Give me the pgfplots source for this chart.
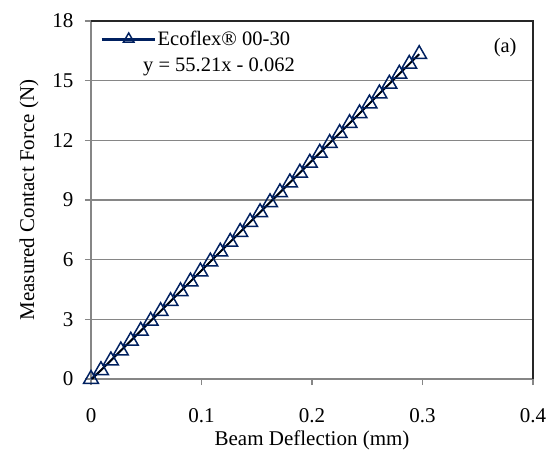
\documentclass[border=0pt]{standalone}
\usepackage{fontspec}
\setmainfont{Liberation Serif}
\usepackage{pgfplots}
\pgfplotsset{compat=1.18}

\definecolor{navy}{HTML}{002060}
\definecolor{axgray}{HTML}{868686}
\definecolor{frame}{HTML}{262626}

\newcommand{\tickfont}{\fontsize{21bp}{25bp}\selectfont}
\newcommand{\labfont}{\fontsize{21bp}{25bp}\selectfont}
\newcommand{\legfont}{\fontsize{20.5bp}{24bp}\selectfont}

\begin{document}
\begin{tikzpicture}
\begin{axis}[
  name=ax,
  scale only axis,
  width=442bp, height=358bp,
  xmin=0, xmax=0.4, ymin=0, ymax=18,
  xtick={0,0.1,0.2,0.3,0.4},
  ytick={0,3,6,9,12,15,18},
  /pgf/number format/assume math mode=true,
  axis line style={draw=none},
  tick align=outside,
  xtick pos=bottom, ytick pos=left,
  major tick length=6bp,
  tick style={axgray, line width=1.5bp},
  ymajorgrids,
  grid style={axgray, line width=1.5bp},
  xlabel={Beam Deflection (mm)},
  ylabel={Measured Contact Force (N)},
  every axis x label/.style={at={(axis description cs:0.5,0)}, anchor=base, yshift=-66bp, font=\labfont},
  every axis y label/.style={at={(axis description cs:-0.140,0.5)}, anchor=center, rotate=90, font=\labfont},
  x tick label style={anchor=center, yshift=-31bp, font=\tickfont},
  y tick label style={anchor=east, xshift=-8bp, font=\tickfont},
  legend style={draw=none, fill=none, inner xsep=0pt, inner ysep=0pt,
    at={(rel axis cs:0.0204,0.9497)}, anchor=west,
    font=\legfont,
    nodes={inner sep=1.5bp}},
  legend cell align=left,
  legend image code/.code={
    \draw[navy, line width=3bp] (0bp,0bp) -- (53bp,0bp);
    \draw[navy, line width=1.5bp, fill=white] plot[mark=triangle, mark size=6bp] coordinates {(27bp,0bp)};
  },
  clip=false,
]
\draw[axgray, line width=2bp] (rel axis cs:0,1) -- (rel axis cs:0,0) -- (rel axis cs:1,0);
\draw[frame, line width=2bp] (rel axis cs:0,1) -- (rel axis cs:1,1) -- (rel axis cs:1,0);
\addplot[navy, line width=2bp, mark=triangle, mark size=8.5bp,
  mark options={fill=white, line width=1.5bp, solid}] coordinates {
 (0,0) (0.009,0.44) (0.018,0.93) (0.027,1.43) (0.036,1.92) (0.045,2.42)
 (0.054,2.92) (0.063,3.41) (0.072,3.91) (0.081,4.41) (0.090,4.90)
 (0.099,5.40) (0.108,5.90) (0.117,6.40) (0.126,6.89) (0.135,7.39)
 (0.144,7.89) (0.153,8.38) (0.162,8.88) (0.171,9.38) (0.180,9.88)
 (0.189,10.37) (0.198,10.87) (0.207,11.37) (0.216,11.86) (0.225,12.36)
 (0.234,12.86) (0.243,13.35) (0.252,13.85) (0.261,14.35) (0.270,14.84)
 (0.279,15.34) (0.288,15.84) (0.297,16.33)
};
\addlegendentry{Ecoflex® 00-30}
\addplot[black, line width=1.5bp, forget plot] coordinates {(0.0011,0) (0.297,16.33)};
\node[anchor=west, inner sep=0pt, font=\legfont] at (rel axis cs:0.1176,0.8715) {y = 55.21x - 0.062};
\node[anchor=center, inner sep=0pt, font=\legfont] at (rel axis cs:0.937,0.9246) {(a)};
\end{axis}
\pgfresetboundingbox
\path[use as bounding box] ([xshift=-91bp,yshift=-73bp]ax.south west) rectangle ([xshift=14bp,yshift=21bp]ax.north east);
\end{tikzpicture}
\end{document}
